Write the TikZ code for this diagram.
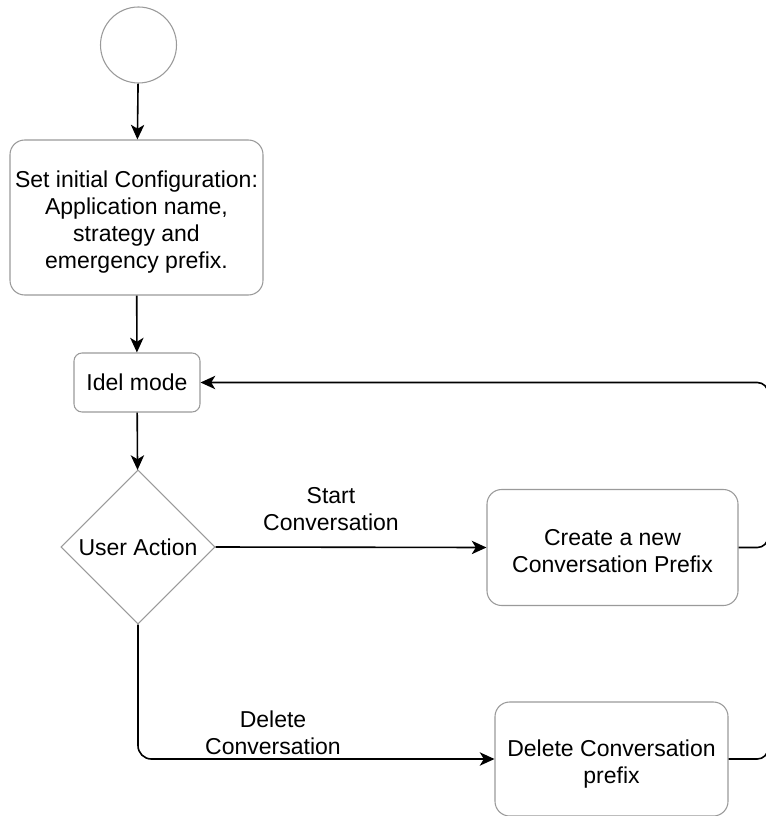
\documentclass[tikz,border=0pt]{standalone}
\usepackage{fontspec}
\setmainfont{Liberation Sans}
\usetikzlibrary{arrows.meta,shapes.geometric}
\definecolor{boxgray}{HTML}{9A9A9A}
\newcommand{\topstrut}[1]{\rule{0pt}{#1}}
\tikzset{
  px/.style={x=0.75pt,y=-0.75pt},
  txt/.style={font=\fontsize{17.25pt}{20.25pt}\selectfont, text=black, align=center, inner sep=0pt},
  stepbox/.style={txt, draw=boxgray, line width=0.8pt, rounded corners=11pt},
  conn/.style={draw=black, line width=1.2pt, -{Stealth[length=11pt,width=10pt,inset=3pt]}},
  plainconn/.style={draw=black, line width=1.2pt},
}
\begin{document}
\begin{tikzpicture}[px]
\useasboundingbox (0,0) rectangle (766,816);
\clip (0,0) rectangle (766,816);
\fill[white] (0,0) rectangle (766,816);
% start
\node[circle, draw=boxgray, line width=0.8pt, minimum size=57pt, inner sep=0pt] (start) at (138.5,45) {};
% configuration
\node[stepbox, minimum width=189.75pt, minimum height=116.25pt] (config) at (136.5,217.5)
  {\topstrut{20pt}Set initial Configuration:\\Application name,\\strategy and\\emergency prefix.};
% idle
\node[stepbox, rounded corners=6pt, minimum width=94.5pt, minimum height=44.25pt] (idel) at (137,382.5) {Idel mode};
% decision
\node[diamond, draw=boxgray, line width=0.8pt, txt, minimum width=115.5pt, minimum height=115.5pt, inner sep=0pt] (user) at (138,547) {User Action};
% create
\node[stepbox, minimum width=188.25pt, minimum height=87pt] (create) at (612.5,547.5) {\topstrut{17pt}Create a new\\Conversation Prefix};
% delete
\node[stepbox, minimum width=174.75pt, minimum height=85.5pt] (delete) at (611.5,759) {\topstrut{20pt}Delete Conversation\\prefix};
% labels
\node[txt] (lstart) at (331,509) {Start\\Conversation};
\node[txt] (ldelete) at (273,733) {Delete\\Conversation};
% connectors
\coordinate (rtop) at (768,382.5);
\coordinate (rmid) at (768,547.5);
\draw[conn] (start) -- (config);
\draw[conn] (config) -- (idel);
\draw[conn] (idel) -- (user);
\draw[conn] (user.east) -- (create.west);
\draw[conn, rounded corners=10pt] (user.south) |- (delete.west);
\draw[plainconn, rounded corners=8pt] (create.east) -| (rmid) -- (rtop);
\draw[plainconn, rounded corners=8pt] (delete.east) -| (rmid);
\draw[conn, rounded corners=8pt] (rmid) -- (rtop) -- (idel.east);
\end{tikzpicture}
\end{document}
